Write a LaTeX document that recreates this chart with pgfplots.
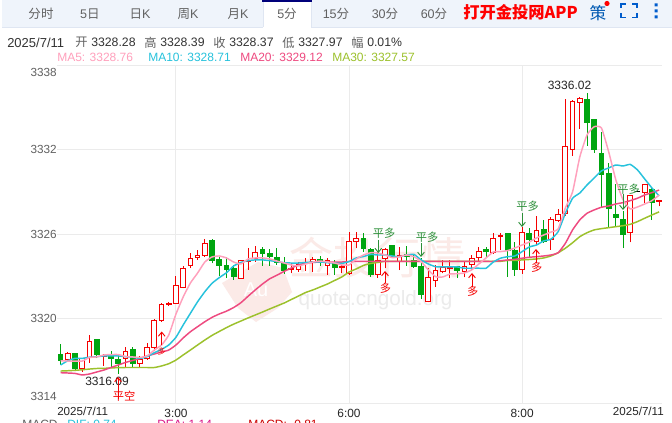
\documentclass[border=0pt]{standalone}
\usepackage{fontspec}
\usepackage{pgfplots}
\usepackage{pgfplotstable}
\usetikzlibrary{arrows.meta}
\pgfplotsset{compat=1.18}
\setmainfont{Liberation Sans}
\newfontfamily\cjk{Noto Sans CJK SC}

\definecolor{upc}{HTML}{F50000}
\definecolor{dnc}{HTML}{00A510}
\definecolor{ma5c}{HTML}{FFA0BC}
\definecolor{ma10c}{HTML}{27C2DC}
\definecolor{ma20c}{HTML}{EE4A80}
\definecolor{ma30c}{HTML}{9CC12C}
\definecolor{gridc}{HTML}{EBEBEB}
\definecolor{barc}{HTML}{EFF4FB}
\definecolor{linec}{HTML}{DFE6F2}
\definecolor{markc}{HTML}{2B8F38}
\definecolor{wmr}{HTML}{FBEAE7}
\definecolor{wmg}{HTML}{EBEBEB}

% i open high low close, body half width .33 of a candle step
\newcommand{\candle}[7]{%
  \pgfmathsetmacro\xl{#3-0.33}\pgfmathsetmacro\xr{#3+0.33}%
  \addplot[#1,line width=.75pt,forget plot] coordinates {(#3,#6)(#3,#5)};
  \addplot[draw=#1,fill=#2,line width=.75pt,forget plot] coordinates {(\xl,#4)(\xr,#4)(\xr,#7)(\xl,#7)} --cycle;
}
\newcommand{\up}[5]{\candle{upc}{white}{#1}{#2}{#3}{#4}{#5}}
\newcommand{\dn}[5]{\candle{dnc}{dnc}{#1}{#2}{#3}{#4}{#5}}

\pgfplotstableread{
i ma5 ma10 ma20 ma30
0 3317.00 3316.70 3316.15 3316.27
1 3316.98 3317.00 3316.13 3316.29
2 3316.98 3317.17 3316.10 3316.32
3 3316.98 3317.17 3315.99 3316.36
4 3317.23 3317.25 3316.06 3316.41
5 3317.27 3317.29 3316.20 3316.45
6 3317.41 3317.34 3316.34 3316.46
7 3317.44 3317.34 3316.52 3316.49
8 3317.44 3317.34 3316.70 3316.51
9 3317.30 3317.29 3316.88 3316.52
10 3317.27 3317.25 3317.02 3316.52
11 3317.23 3317.17 3317.16 3316.52
12 3317.34 3317.29 3317.34 3316.52
13 3317.76 3317.57 3317.48 3316.52
14 3318.12 3317.81 3317.62 3316.63
15 3318.83 3318.12 3317.76 3316.79
16 3320.32 3318.67 3318.12 3317.05
17 3321.53 3319.54 3318.62 3317.41
18 3322.52 3320.37 3319.06 3317.76
19 3323.23 3321.19 3319.42 3318.12
20 3324.01 3321.90 3319.77 3318.47
21 3324.37 3322.50 3320.08 3318.80
22 3324.44 3322.90 3320.32 3319.08
23 3324.30 3323.25 3320.52 3319.35
24 3324.01 3323.73 3320.78 3319.60
25 3323.87 3323.98 3321.12 3319.82
26 3324.23 3324.11 3321.58 3320.04
27 3324.30 3324.16 3322.03 3320.25
28 3324.30 3324.16 3322.45 3320.46
29 3324.23 3324.11 3322.82 3320.68
30 3324.08 3324.04 3323.08 3320.89
31 3323.94 3323.96 3323.34 3321.10
32 3323.80 3323.94 3323.59 3321.35
33 3323.73 3323.94 3323.80 3321.60
34 3323.87 3323.98 3323.94 3321.85
35 3324.01 3324.01 3323.98 3322.03
36 3324.08 3324.01 3324.01 3322.24
37 3324.01 3323.96 3324.01 3322.45
38 3323.94 3323.94 3324.01 3322.70
39 3323.80 3323.91 3324.01 3322.95
40 3323.80 3324.04 3324.05 3323.30
41 3324.23 3324.30 3324.05 3323.52
42 3324.51 3324.40 3324.05 3323.77
43 3324.67 3324.55 3324.05 3323.91
44 3324.65 3324.51 3324.05 3323.98
45 3324.51 3324.51 3324.05 3324.06
46 3324.32 3324.44 3324.05 3324.06
47 3324.39 3324.39 3324.05 3324.06
48 3324.51 3324.51 3324.05 3324.06
49 3324.39 3324.55 3324.05 3324.06
50 3324.04 3324.16 3324.05 3324.06
51 3323.45 3323.87 3324.05 3324.06
52 3322.97 3323.68 3324.05 3324.06
53 3322.95 3323.66 3324.05 3324.06
54 3323.16 3323.66 3324.05 3324.06
55 3323.18 3323.66 3324.05 3324.06
56 3323.23 3323.57 3324.05 3324.06
57 3323.45 3323.57 3324.05 3324.06
58 3323.87 3323.57 3324.05 3324.06
59 3324.30 3323.57 3324.05 3324.06
60 3324.72 3324.01 3324.05 3324.06
61 3324.75 3324.28 3324.10 3324.06
62 3324.82 3324.39 3324.16 3324.12
63 3325.01 3324.44 3324.20 3324.12
64 3325.22 3324.75 3324.28 3324.16
65 3325.43 3325.08 3324.35 3324.19
66 3325.72 3325.22 3324.39 3324.23
67 3325.93 3325.51 3324.44 3324.30
68 3326.14 3325.63 3324.51 3324.44
69 3326.36 3326.17 3324.67 3324.67
70 3327.85 3327.47 3325.34 3324.99
71 3328.99 3328.54 3326.29 3325.38
72 3331.47 3328.91 3327.00 3325.81
73 3333.03 3329.48 3327.47 3326.09
74 3333.62 3329.98 3327.71 3326.29
75 3333.53 3330.48 3327.90 3326.38
76 3331.85 3330.69 3327.99 3326.45
77 3329.84 3330.90 3328.13 3326.52
78 3328.42 3330.83 3328.23 3326.59
79 3327.78 3330.94 3328.37 3326.69
80 3327.92 3330.55 3328.54 3326.88
81 3328.13 3329.91 3328.77 3327.12
82 3328.37 3329.27 3328.94 3327.35
83 3328.76 3328.71 3329.12 3327.57
}\matable

\begin{document}
\begin{tikzpicture}
\useasboundingbox (0,0) rectangle (504pt,316.5pt);
\fill[white] (0,0) rectangle (504pt,316.5pt);

% tab bar and watermark sit under the axis
\begin{scope}[x=.75pt,y=-.75pt,shift={(0pt,316.5pt)}]
  \fill[barc] (2,0) rectangle (672,27);
  \draw[linec,line width=.75pt] (2,27.5) -- (672,27.5);
  \fill[white] (263,0) rectangle (311,28);
  \draw[linec,line width=.75pt] (263,2) -- (263,27.5) (311,2) -- (311,27.5);
  \fill[black!20!blue!60!black] (262,0) rectangle (311.5,2);
  \fill[wmr] (222,283) -- (258,262) -- (283,268) -- (292,292) -- (278,308) -- (256,322) -- (238,308) -- cycle;
  \node[font=\cjk\fontsize{33pt}{33pt}\selectfont,text=wmr,anchor=center] at (377,258) {金投行情};
  \node[font=\fontsize{15pt}{15pt}\selectfont,text=white] at (256,290) {Au};
  \node[font=\fontsize{15.5pt}{15.5pt}\selectfont,text=wmg,anchor=center] at (375.5,300) {quote.cngold.org};
\end{scope}

\begin{axis}[
    at={(42.75pt,14.25pt)},
    anchor=south west,
    scale only axis,
    width=453.75pt,
    height=253.5pt,
    xmin=-0.5, xmax=83.4,
    ymin=3314, ymax=3338,
    clip=false,
    axis line style={draw=none},
    tick style={draw=none},
    grid=major,
    grid style={gridc,line width=.75pt},
    ytick={3314,3320,3326,3332,3338},
    yticklabels={,3320,3326,3332,},
    xtick={16,40,64},
    xticklabels={3:00,6:00,8:00},
    yticklabel style={font=\fontsize{8.8pt}{8.8pt}\selectfont,text=black!62,inner sep=0pt,anchor=east,xshift=0pt},
    xticklabel style={font=\fontsize{8.9pt}{8.9pt}\selectfont,text=black!85,inner sep=0pt,anchor=base,yshift=-10.5pt},
    yticklabel shift=0pt,
    xticklabel shift=0pt,
]
\dn{0}{3317.41}{3318.19}{3316.70}{3317.01}
\up{1}{3317.10}{3317.65}{3316.94}{3317.48}
\dn{2}{3317.48}{3317.48}{3316.30}{3316.44}
\up{3}{3316.42}{3317.18}{3316.23}{3317.18}
\up{4}{3317.22}{3318.81}{3316.87}{3318.38}
\dn{5}{3318.48}{3318.48}{3317.18}{3317.41}
\up{6}{3317.27}{3317.48}{3316.63}{3317.34}
\dn{7}{3317.41}{3317.72}{3316.54}{3317.15}
\dn{8}{3317.06}{3317.41}{3316.09}{3316.77}
\up{9}{3317.18}{3317.96}{3316.54}{3317.65}
\dn{10}{3317.82}{3317.96}{3316.54}{3316.77}
\up{11}{3316.82}{3317.34}{3316.54}{3317.11}
\up{12}{3317.15}{3318.24}{3317.06}{3317.96}
\up{13}{3317.96}{3319.95}{3317.72}{3319.85}
\up{14}{3319.85}{3321.08}{3319.78}{3320.96}
\up{15}{3320.99}{3321.18}{3320.89}{3321.08}
\up{16}{3321.08}{3323.02}{3321.04}{3322.31}
\up{17}{3322.22}{3323.73}{3322.15}{3323.57}
\up{18}{3323.76}{3324.63}{3323.57}{3324.28}
\up{19}{3324.35}{3324.87}{3324.16}{3324.44}
\up{20}{3324.44}{3325.65}{3324.35}{3325.34}
\dn{21}{3325.51}{3325.65}{3323.92}{3324.11}
\dn{22}{3324.16}{3324.35}{3323.02}{3323.76}
\dn{23}{3323.73}{3324.35}{3322.86}{3323.45}
\dn{24}{3323.57}{3323.80}{3322.74}{3322.98}
\up{25}{3322.86}{3324.16}{3322.81}{3324.09}
\up{26}{3324.06}{3324.99}{3323.45}{3324.14}
\up{27}{3324.23}{3325.15}{3324.04}{3324.70}
\dn{28}{3324.87}{3325.06}{3323.76}{3324.63}
\dn{29}{3324.59}{3324.92}{3323.76}{3324.40}
\dn{30}{3324.33}{3324.99}{3323.80}{3323.97}
\dn{31}{3323.97}{3324.35}{3323.17}{3323.40}
\up{32}{3323.50}{3323.97}{3323.21}{3323.54}
\up{33}{3323.50}{3324.04}{3323.33}{3323.80}
\up{34}{3323.95}{3324.28}{3323.40}{3323.99}
\up{35}{3324.04}{3324.35}{3323.33}{3324.16}
\dn{36}{3324.21}{3324.44}{3323.73}{3323.97}
\up{37}{3323.78}{3324.28}{3323.09}{3324.11}
\dn{38}{3323.88}{3324.16}{3323.09}{3323.62}
\up{39}{3323.62}{3323.92}{3323.21}{3323.69}
\up{40}{3323.16}{3326.12}{3323.09}{3325.46}
\up{41}{3325.46}{3326.12}{3324.98}{3325.65}
\dn{42}{3325.65}{3326.05}{3324.75}{3324.94}
\dn{43}{3324.91}{3324.98}{3322.97}{3323.09}
\up{44}{3323.14}{3324.79}{3322.90}{3324.15}
\up{45}{3324.27}{3324.98}{3323.56}{3324.91}
\dn{46}{3325.15}{3325.22}{3324.32}{3324.39}
\up{47}{3324.08}{3325.10}{3323.44}{3324.46}
\dn{48}{3324.56}{3325.17}{3323.75}{3324.39}
\dn{49}{3324.11}{3324.51}{3323.61}{3323.68}
\dn{50}{3323.68}{3324.27}{3321.36}{3321.67}
\up{51}{3321.20}{3323.56}{3321.15}{3322.92}
\up{52}{3322.71}{3323.80}{3322.26}{3323.44}
\up{53}{3323.33}{3324.15}{3323.21}{3323.63}
\up{54}{3323.56}{3324.15}{3322.85}{3323.61}
\dn{55}{3323.68}{3323.75}{3322.90}{3323.40}
\up{56}{3323.33}{3324.04}{3322.92}{3323.68}
\up{57}{3323.80}{3324.51}{3323.44}{3324.27}
\up{58}{3324.34}{3325.05}{3323.99}{3324.79}
\dn{59}{3324.91}{3325.05}{3324.34}{3324.75}
\up{60}{3324.68}{3326.05}{3324.58}{3325.69}
\up{61}{3325.79}{3326.05}{3324.86}{3325.88}
\dn{62}{3326.01}{3326.05}{3322.98}{3324.82}
\dn{63}{3324.80}{3325.46}{3323.02}{3323.45}
\up{64}{3323.50}{3326.50}{3323.17}{3326.12}
\dn{65}{3326.05}{3326.41}{3324.35}{3325.58}
\up{66}{3325.44}{3327.28}{3325.22}{3326.27}
\dn{67}{3326.34}{3327.00}{3325.39}{3325.46}
\up{68}{3325.63}{3327.24}{3324.87}{3327.05}
\up{69}{3326.95}{3327.78}{3326.88}{3327.40}
\up{70}{3327.47}{3335.59}{3327.28}{3332.20}
\up{71}{3332.02}{3335.52}{3331.56}{3335.40}
\up{72}{3335.36}{3335.71}{3333.48}{3335.64}
\dn{73}{3335.52}{3336.02}{3332.25}{3333.91}
\dn{74}{3334.10}{3334.10}{3331.78}{3331.97}
\dn{75}{3331.73}{3333.27}{3327.94}{3330.26}
\dn{76}{3330.31}{3331.04}{3326.52}{3327.83}
\dn{77}{3327.42}{3329.55}{3326.57}{3327.16}
\dn{78}{3327.00}{3327.66}{3324.99}{3325.98}
\up{79}{3326.12}{3328.70}{3325.41}{3328.70}
\candle{black}{black}{80}{3329.00}{3329.03}{3329.00}{3329.03}
\up{81}{3328.94}{3329.55}{3328.23}{3329.53}
\dn{82}{3329.18}{3329.27}{3327.00}{3328.23}
\up{83}{3328.28}{3328.39}{3327.97}{3328.37}

\addplot[ma30c,line width=1.1pt,smooth,tension=.3] table[x=i,y=ma30] {\matable};
\addplot[ma20c,line width=1.1pt,smooth,tension=.3] table[x=i,y=ma20] {\matable};
\addplot[ma10c,line width=1.1pt,smooth,tension=.3] table[x=i,y=ma10] {\matable};
\addplot[ma5c,line width=1.1pt,smooth,tension=.3] table[x=i,y=ma5] {\matable};
\end{axis}

\begin{scope}[x=.75pt,y=-.75pt,shift={(0pt,316.5pt)},
    every node/.style={inner sep=0pt,font=\fontsize{9.2pt}{9.2pt}\selectfont}]
  % tabs
  \begin{scope}[every node/.append style={text=black!62,font=\fontsize{9.4pt}{9.4pt}\selectfont}]
    \node at (41,14) {\cjk 分时};
    \node at (90,14) {5{\cjk 日}};
    \node at (140,14) {{\cjk 日}K};
    \node at (188,14) {{\cjk 周}K};
    \node at (238,14) {{\cjk 月}K};
    \node at (287,14) {5{\cjk 分}};
    \node at (336,14) {15{\cjk 分}};
    \node at (385,14) {30{\cjk 分}};
    \node at (434,14) {60{\cjk 分}};
  \end{scope}
  \node[text=red,font=\cjk\bfseries\fontsize{12.2pt}{12.2pt}\selectfont] at (520.5,12.5) {打开金投网APP};
  \node[text=blue!50!cyan!70!black,font=\cjk\fontsize{12.5pt}{12.5pt}\selectfont] at (598,13) {策};
  \fill[red] (607,3.5) circle (2.6);
  \draw[blue!55!cyan!80!black,line width=1.3pt]
    (621,8) -- (621,4) -- (626,4) (632,4) -- (637,4) -- (637,8)
    (621,13) -- (621,17.5) -- (626,17.5) (632,17.5) -- (637,17.5) -- (637,13);
  \fill[blue!55!cyan!80!black] (654.5,3.5) rectangle +(3,3) (654.5,9.5) rectangle +(3,3) (654.5,15.5) rectangle +(3,3);

  % quote row
  \begin{scope}[every node/.append style={anchor=west}]
    \node[text=black!80,font=\fontsize{9.75pt}{9.75pt}\selectfont] at (7,42.5) {2025/7/11};
    \node[text=black!62] at (75,42.5) {\cjk 开};
    \node[text=black!80] at (91,42.5) {3328.28};
    \node[text=black!62] at (144,42.5) {\cjk 高};
    \node[text=black!80] at (160,42.5) {3328.39};
    \node[text=black!62] at (213,42.5) {\cjk 收};
    \node[text=black!80] at (229,42.5) {3328.37};
    \node[text=black!62] at (282,42.5) {\cjk 低};
    \node[text=black!80] at (298,42.5) {3327.97};
    \node[text=black!62] at (351,42.5) {\cjk 幅};
    \node[text=black!80] at (367,42.5) {0.01\%};
    \begin{scope}[every node/.append style={font=\fontsize{9pt}{9pt}\selectfont}]
      \node[text=ma5c] at (57,57.5) {MA5: 3328.76};
      \node[text=ma10c] at (148,57.5) {MA10: 3328.71};
      \node[text=ma20c] at (240,57.5) {MA20: 3329.12};
      \node[text=ma30c] at (332,57.5) {MA30: 3327.57};
      % MACD row, cut by the lower edge
      \node[text=black!62] at (22,424.5) {MACD};
      \node[text=ma10c] at (67,424.5) {DIF: 0.74};
      \node[text=magenta!80!violet] at (157,424.5) {DEA: 1.14};
      \node[text=red!80!black] at (248,424.5) {MACD: -0.81};
    \end{scope}
    % end tick labels
    \node[text=black!85,font=\fontsize{8.7pt}{8.7pt}\selectfont] at (57,411) {2025/7/11};
    \node[text=black!85,font=\fontsize{8.7pt}{8.7pt}\selectfont,anchor=east] at (664,411) {2025/7/11};
  \end{scope}
  \node[text=black!62,anchor=east,font=\fontsize{8.8pt}{8.8pt}\selectfont] at (57,72) {3338};
  \node[text=black!62,anchor=east,font=\fontsize{8.8pt}{8.8pt}\selectfont] at (57,396.5) {3314};

  % extreme values
  \node[text=black!85,font=\fontsize{9pt}{9pt}\selectfont] at (569.5,85.5) {3336.02};
  \node[text=black!85,font=\fontsize{9pt}{9pt}\selectfont] at (107,381.5) {3316.09};

  % trade signals
  \begin{scope}[every node/.append style={font=\cjk\fontsize{8.4pt}{8.4pt}\selectfont}]
    \draw[upc,-{Straight Barb[length=3pt,width=5pt]},line width=.7pt] (118,399) -- (118,377);
    \node[text=upc] at (124,396) {平空};
    \draw[upc,-{Straight Barb[length=3pt,width=5pt]},line width=.7pt] (161.7,345) -- (161.7,331.5);
    \node[text=upc,font=\cjk\fontsize{6pt}{6pt}\selectfont] at (161.7,351) {多};
    \node[text=markc] at (384,233) {平多};
    \draw[markc,-{Straight Barb[length=3pt,width=5pt]},line width=.7pt] (378.3,240) -- (378.3,253);
    \node[text=markc] at (427,237) {平多};
    \draw[markc,-{Straight Barb[length=3pt,width=5pt]},line width=.7pt] (421,243) -- (421,257);
    \node[text=upc] at (385.5,288) {多};
    \draw[upc,-{Straight Barb[length=3pt,width=5pt]},line width=.7pt] (385,283) -- (385,271);
    \node[text=upc] at (472.7,291.5) {多};
    \draw[upc,-{Straight Barb[length=3pt,width=5pt]},line width=.7pt] (472,287) -- (472,273);
    \node[text=markc] at (527.5,206.7) {平多};
    \draw[markc,-{Straight Barb[length=3pt,width=5pt]},line width=.7pt] (522,213) -- (522,227);
    \node[text=upc] at (536.7,267.7) {多};
    \draw[upc,-{Straight Barb[length=3pt,width=5pt]},line width=.7pt] (536,263) -- (536,249);
    \node[text=markc] at (628.5,189.3) {平多};
    \draw[markc,-{Straight Barb[length=3pt,width=5pt]},line width=.7pt] (623,194) -- (623,210);
  \end{scope}
\end{scope}
\end{tikzpicture}
\end{document}
